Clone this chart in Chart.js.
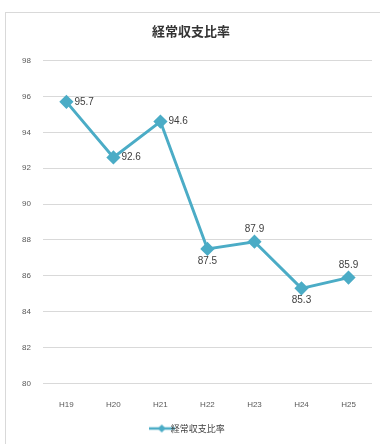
<!DOCTYPE html>
<html>
<head>
<meta charset="utf-8">
<script src="https://cdn.jsdelivr.net/npm/chart.js@4/dist/chart.umd.min.js"></script>
<style>
  html, body { margin: 0; padding: 0; background: #fff; }
  #frame { position: absolute; left: 5px; top: 12px; width: 376px; height: 433px; border: 1px solid #d9d9d9; box-sizing: border-box; }
  #chart { display: block; }
</style>
</head>
<body>
<div id="frame"><canvas id="chart" width="374" height="431"></canvas></div>
<script>
const labels = ['H19', 'H20', 'H21', 'H22', 'H23', 'H24', 'H25'];
const ratio = [95.7, 92.6, 94.6, 87.5, 87.9, 85.3, 85.9];
const labelSide = ['right', 'right', 'right', 'below', 'above', 'below', 'above'];
const yTicks = [80, 82, 84, 86, 88, 90, 92, 94, 96, 98];

const lineColor = '#4bacc6';
const jpFont = '"Noto Sans CJK JP", "Noto Sans", sans-serif';

// little line + diamond image for the legend
function legendMark() {
    const c = document.createElement('canvas');
    c.width = 26; c.height = 10;
    const g = c.getContext('2d');
    g.strokeStyle = lineColor;
    g.lineWidth = 2.5;
    g.beginPath(); g.moveTo(0, 5); g.lineTo(26, 5); g.stroke();
    g.fillStyle = lineColor;
    g.beginPath(); g.moveTo(13, 1); g.lineTo(17, 5); g.lineTo(13, 9); g.lineTo(9, 5); g.closePath(); g.fill();
    return c;
}

// draws the value next to each point
const valueLabels = {
    id: 'valueLabels',
    afterDatasetsDraw(chart) {
        const ctx = chart.ctx;
        const meta = chart.getDatasetMeta(0);
        ctx.save();
        ctx.font = '10px "Liberation Sans", Arial, sans-serif';
        ctx.fillStyle = '#404040';
        meta.data.forEach((pt, i) => {
            const txt = ratio[i].toFixed(1);
            const side = labelSide[i];
            if (side === 'right') {
                ctx.textAlign = 'left'; ctx.textBaseline = 'middle';
                ctx.fillText(txt, pt.x + 8, pt.y);
            } else if (side === 'above') {
                ctx.textAlign = 'center'; ctx.textBaseline = 'bottom';
                ctx.fillText(txt, pt.x, pt.y - 7);
            } else {
                ctx.textAlign = 'center'; ctx.textBaseline = 'top';
                ctx.fillText(txt, pt.x, pt.y + 7);
            }
        });
        ctx.restore();
    }
};

new Chart(document.getElementById('chart').getContext('2d'), {
    type: 'line',
    data: {
        labels: labels,
        datasets: [{
            label: '経常収支比率',
            data: ratio,
            borderColor: lineColor,
            backgroundColor: lineColor,
            borderWidth: 3,
            pointStyle: 'rectRot',
            pointRadius: 5,
            pointBackgroundColor: lineColor,
            pointBorderColor: lineColor,
            tension: 0
        }]
    },
    options: {
        responsive: false,
        animation: false,
        layout: { padding: { left: 4, right: 8, top: 0, bottom: 1 } },
        plugins: {
            title: {
                display: true,
                text: '経常収支比率',
                color: '#333',
                font: { family: jpFont, size: 13, weight: 'bold' },
                padding: { top: 10, bottom: 22 }
            },
            legend: {
                position: 'bottom',
                labels: {
                    usePointStyle: true,
                    color: '#404040',
                    font: { family: jpFont, size: 9 },
                    padding: 5,
                    generateLabels(chart) {
                        const items = Chart.defaults.plugins.legend.labels.generateLabels(chart);
                        items.forEach(it => { it.pointStyle = legendMark(); });
                        return items;
                    }
                }
            },
            tooltip: { enabled: false }
        },
        scales: {
            x: {
                offset: true,
                grid: { display: false },
                border: { display: false },
                ticks: { color: '#595959', font: { size: 8 }, padding: 9 }
            },
            y: {
                min: 80,
                max: 98,
                afterBuildTicks(axis) { axis.ticks = yTicks.map(v => ({ value: v })); },
                grid: { color: '#d9d9d9', lineWidth: 1, drawTicks: false },
                border: { display: false },
                ticks: { color: '#595959', font: { size: 8 }, padding: 12 }
            }
        }
    },
    plugins: [valueLabels]
});
</script>
</body>
</html>
